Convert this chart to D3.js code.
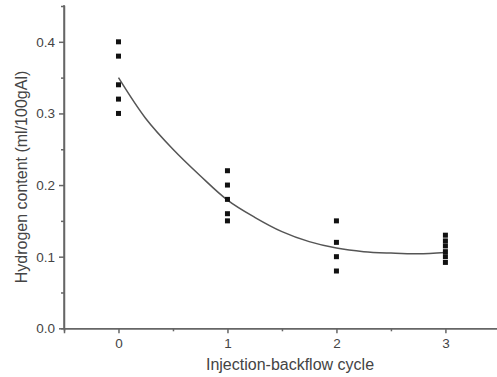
<!DOCTYPE html>
<html>
<head>
<meta charset="utf-8">
<script src="https://cdn.jsdelivr.net/npm/d3@7"></script>
<style>
  body { margin: 0; background: #fff; }
  svg { display: block; font-family: "Liberation Sans", Arial, sans-serif; }
</style>
</head>
<body>
<div id="chart"></div>
<script>
// measured samples, one array per injection-backflow cycle
const cycles = [0, 1, 2, 3];
const cycle0 = [0.40, 0.38, 0.34, 0.32, 0.30];
const cycle1 = [0.22, 0.20, 0.18, 0.16, 0.15];
const cycle2 = [0.15, 0.12, 0.10, 0.08];
const cycle3 = [0.13, 0.122, 0.115, 0.107, 0.10, 0.092];

// fitted curve
const fitX = [0, 0.25, 0.5, 0.75, 1, 1.25, 1.5, 1.75, 2, 2.25, 2.5, 2.75, 3];
const fitY = [0.35, 0.293, 0.25, 0.213, 0.179, 0.155, 0.135, 0.121, 0.112, 0.107, 0.105, 0.104, 0.106];

const yTicks = [0.0, 0.1, 0.2, 0.3, 0.4];
const yMinor = [0.05, 0.15, 0.25, 0.35];
const xTicks = [0, 1, 2, 3];
const xMinor = [0.5, 1.5, 2.5];

const width = 497;
const height = 377;
const axisColor = '#666';

const svg = d3.select('#chart').append('svg')
  .attr('width', width)
  .attr('height', height);

const x = d3.scaleLinear().domain([-0.5, 3.5]).range([64, 499.9]);
const y = d3.scaleLinear().domain([0, 0.45]).range([328.3, 6]);

// y axis
const yAxis = svg.append('g')
  .attr('transform', `translate(${x(-0.5)},0)`)
  .call(d3.axisLeft(y).tickValues(yTicks).tickFormat(d3.format('.1f')).tickSize(5).tickPadding(4));
yAxis.append('g')
  .call(d3.axisLeft(y).tickValues(yMinor).tickFormat('').tickSize(3));
yAxis.select('.domain').attr('d', `M0,${y(0)}V5`);

// x axis
const xAxis = svg.append('g')
  .attr('transform', `translate(0,${y(0)})`)
  .call(d3.axisBottom(x).tickValues(xTicks).tickFormat(d3.format('d')).tickSize(5).tickPadding(5));
xAxis.append('g')
  .call(d3.axisBottom(x).tickValues(xMinor).tickFormat('').tickSize(3));

svg.selectAll('.domain, .tick line')
  .attr('stroke', axisColor)
  .attr('stroke-width', 1.5);
svg.selectAll('.tick text')
  .attr('fill', '#444')
  .style('font-size', '13.5px');

// axis titles
svg.append('text')
  .attr('x', 290)
  .attr('y', 370)
  .attr('text-anchor', 'middle')
  .attr('fill', '#444')
  .style('font-size', '16px')
  .text('Injection-backflow cycle');

svg.append('text')
  .attr('transform', 'translate(27,177) rotate(-90)')
  .attr('text-anchor', 'middle')
  .attr('fill', '#444')
  .style('font-size', '16px')
  .text('Hydrogen content (ml/100gAl)');

// fitted line
const line = d3.line()
  .x(d => x(d[0]))
  .y(d => y(d[1]))
  .curve(d3.curveCatmullRom);

svg.append('path')
  .datum(fitX.map((v, i) => [v, fitY[i]]))
  .attr('d', line)
  .attr('fill', 'none')
  .attr('stroke', '#555')
  .attr('stroke-width', 1.5);

// square markers
const points = [cycle0, cycle1, cycle2, cycle3]
  .flatMap((vals, i) => vals.map(v => ({ c: cycles[i], v })));
const s = 5;
svg.selectAll('.pt')
  .data(points)
  .enter().append('rect')
  .attr('class', 'pt')
  .attr('x', d => x(d.c) - s / 2)
  .attr('y', d => y(d.v) - s / 2)
  .attr('width', s)
  .attr('height', s)
  .attr('fill', '#111');
</script>
</body>
</html>
